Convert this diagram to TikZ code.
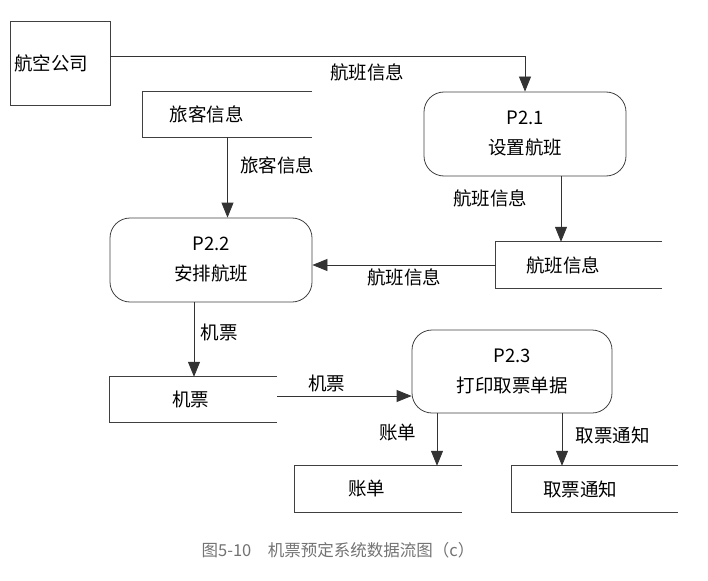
\documentclass[tikz,border=0pt]{standalone}
\usepackage{fontspec}
\setmainfont{Noto Sans CJK SC}
\usetikzlibrary{arrows.meta, positioning}

\begin{document}
\begin{tikzpicture}[x=1pt, y=-1pt, font=\fontsize{18.5}{30}\selectfont]
\tikzstyle{entity}=[draw=black!75, line width=0.8pt, text width=92pt, inner xsep=4pt, inner ysep=3pt, minimum height=84pt, align=left]
\tikzstyle{process}=[draw=black!75, line width=0.8pt, rounded corners=20pt, minimum width=202pt, minimum height=84pt, inner sep=0pt, align=center]
\tikzstyle{store}=[minimum height=46pt, inner sep=0pt]
\tikzstyle{flow}=[draw=black!80, line width=0.8pt, -{Triangle[length=15pt,width=12pt]}]
\useasboundingbox (0,0) rectangle (708,580);

% external entity and processes
\node (air) [entity] at (60,63) {航空公司};
\node (p21) [process] at (525,134) {P2.1\\设置航班};
\node (p22) [process] at (211,260) {P2.2\\安排航班};
\node (p23) [process, minimum width=200pt, minimum height=83pt] at (512,371.5) {P2.3\\打印取票单据};

% data stores
\node (lv) [store, minimum width=169pt, minimum height=45pt, label={[xshift=-21pt]center:旅客信息}] at (227.5,114.5) {};
\node (fi) [store, minimum width=166pt, label={[xshift=-16pt]center:航班信息}] at (579,265) {};
\node (tk) [store, minimum width=167pt, minimum height=45pt, label={[xshift=-3pt]center:机票}] at (193.5,399.5) {};
\node (bill) [store, minimum width=167pt, label={[xshift=-12pt]center:账单}] at (378.5,489) {};
\node (note) [store, minimum width=166pt, label={[xshift=-15pt]center:取票通知}] at (595,489) {};
\draw [black!75, line width=0.8pt] (lv.north east) -- (lv.north west) -- (lv.south west) -- (lv.south east);
\draw [black!75, line width=0.8pt] (fi.north east) -- (fi.north west) -- (fi.south west) -- (fi.south east);
\draw [black!75, line width=0.8pt] (tk.north east) -- (tk.north west) -- (tk.south west) -- (tk.south east);
\draw [black!75, line width=0.8pt] (bill.north east) -- (bill.north west) -- (bill.south west) -- (bill.south east);
\draw [black!75, line width=0.8pt] (note.north east) -- (note.north west) -- (note.south west) -- (note.south east);

% data flows
\draw [flow] ([yshift=7pt]air.east) -| node[pos=0.31, anchor=north, yshift=-4pt]{航班信息} (p21.north);
\draw [flow] (lv.south) -- node[anchor=west, xshift=9pt, yshift=12pt]{旅客信息} (lv.south |- p22.north);
\draw [flow] ([xshift=36pt]p21.south) -- node[anchor=east, xshift=-30pt, yshift=11pt]{航班信息} ([xshift=36pt]p21.south |- fi.north);
\draw [flow] (fi.west) -- node[anchor=north]{航班信息} (fi.west -| p22.east);
\draw [flow] ([xshift=-17pt]p22.south) -- node[anchor=west, xshift=3pt, yshift=7pt]{机票} ([xshift=-17pt]p22.south |- tk.north);
\draw [flow] ([yshift=3.5pt]tk.east) -- node[pos=0.37, anchor=south]{机票} ([yshift=3.5pt]tk.east -| p23.west);
\draw [flow] ([xshift=-75pt]p23.south) -- node[anchor=east, xshift=-17pt, yshift=7pt]{账单} ([xshift=-75pt]p23.south |- bill.north);
\draw [flow] ([xshift=50pt]p23.south) -- node[anchor=west, xshift=10pt, yshift=4pt]{取票通知} ([xshift=50pt]p23.south |- note.north);

% caption
\node (cap) [text=black!55, font=\fontsize{16.5}{20}\selectfont] at (338,550) {图5-10\quad 机票预定系统数据流图（c）};
\end{tikzpicture}
\end{document}
